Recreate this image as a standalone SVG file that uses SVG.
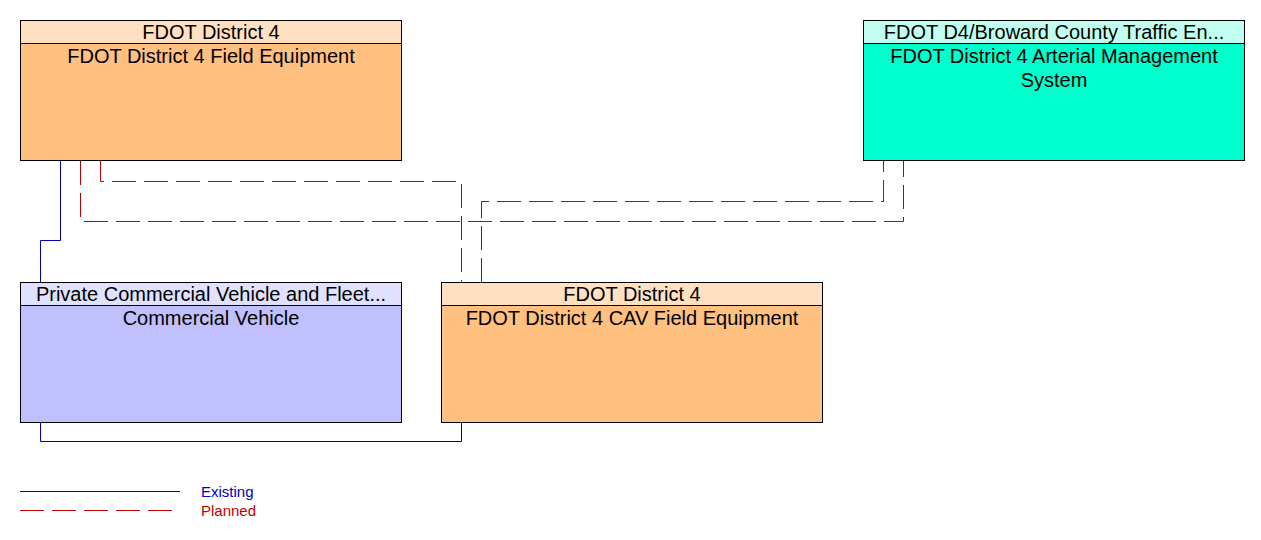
<svg xmlns="http://www.w3.org/2000/svg" width="1261" height="540" viewBox="0 0 1261 540">
<style>
text{font-family:"Liberation Sans",Arial,sans-serif;font-size:20px;fill:#000;text-anchor:middle}
.b{stroke:#000;stroke-width:1}
.e{fill:none;stroke:#0000c0;stroke-width:1}
.p{fill:none;stroke:#c00000;stroke-width:1;stroke-dasharray:24,8}
.l{font-size:15px;text-anchor:start}
</style>
<rect width="1261" height="540" fill="#fff"/>
<g id="connectors">
<path class="e" d="M60.5 161V240.5H40.5V282"/>
<path class="e" d="M40.5 422V441.5H461.5V422"/>
<path class="p" d="M100.5 161V181.5H461.5V282"/>
<path class="p" d="M80.5 161V221.5H903.5V161"/>
<path class="p" d="M481.5 282V201.5H883.5V161"/>
</g>
<g id="fe">
<rect class="b" x="20.5" y="20.5" width="381" height="140" fill="#ffc080"/>
<rect class="b" x="20.5" y="20.5" width="381" height="23" fill="#ffe0c0"/>
<text x="211" y="39">FDOT District 4</text>
<text x="211" y="63">FDOT District 4 Field Equipment</text>
</g>
<g id="ams">
<rect class="b" x="863.5" y="20.5" width="381" height="140" fill="#00ffcc"/>
<rect class="b" x="863.5" y="20.5" width="381" height="23" fill="#c0fff0"/>
<text x="1054" y="39">FDOT D4/Broward County Traffic En...</text>
<text x="1054" y="63">FDOT District 4 Arterial Management</text>
<text x="1054" y="87">System</text>
</g>
<g id="cv">
<rect class="b" x="20.5" y="282.5" width="381" height="140" fill="#c0c0ff"/>
<rect class="b" x="20.5" y="282.5" width="381" height="23" fill="#e0e0ff"/>
<text x="211" y="301">Private Commercial Vehicle and Fleet...</text>
<text x="211" y="325">Commercial Vehicle</text>
</g>
<g id="cav">
<rect class="b" x="441.5" y="282.5" width="381" height="140" fill="#ffc080"/>
<rect class="b" x="441.5" y="282.5" width="381" height="23" fill="#ffe0c0"/>
<text x="632" y="301">FDOT District 4</text>
<text x="632" y="325">FDOT District 4 CAV Field Equipment</text>
</g>
<g id="legend">
<line class="e" x1="20" y1="491.5" x2="180" y2="491.5"/>
<line class="p" x1="20" y1="510.5" x2="180" y2="510.5"/>
<text class="l" x="201" y="497" fill="#0000c0" style="fill:#0000c0">Existing</text>
<text class="l" x="201" y="516" style="fill:#c00000">Planned</text>
</g>
</svg>
